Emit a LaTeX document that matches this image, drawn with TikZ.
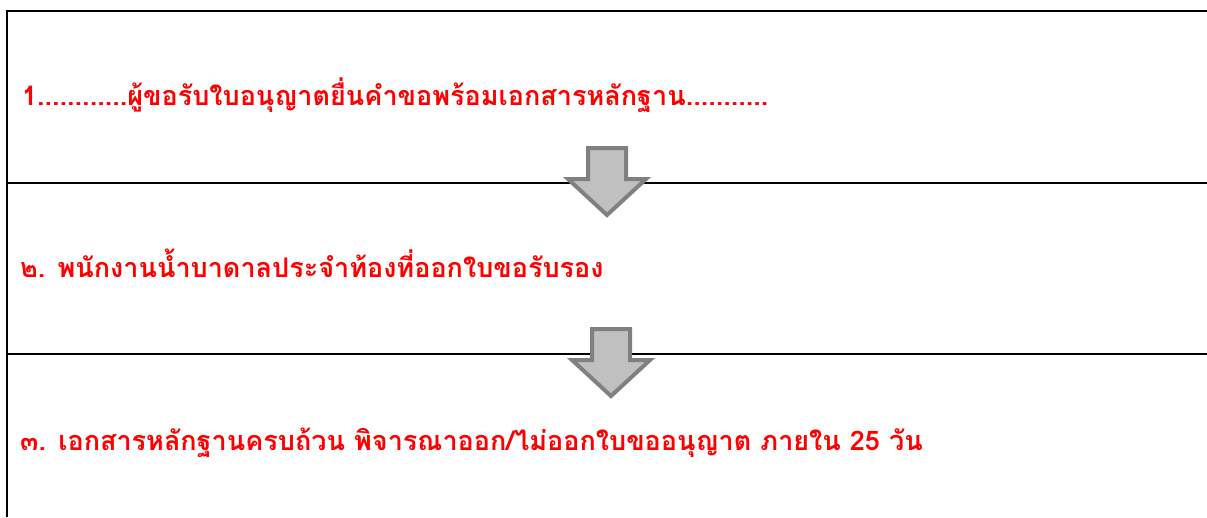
\documentclass[tikz,border=0pt]{standalone}
\usepackage{fontspec}
\newfontfamily\thaifont[Script=Thai]{Loma}
\usepackage{xcolor}
\usetikzlibrary{
    positioning,
    calc,
}
\definecolor{steptext}{RGB}{255,0,0}
\definecolor{arrowedge}{RGB}{128,128,128}
\definecolor{arrowfill}{RGB}{192,192,192}
\tikzset{
    % Text styles
    step label/.style={anchor=base west, inner sep=0pt, text=steptext,
                       font=\thaifont\bfseries\fontsize{27}{32}\selectfont},
    % Frame styles
    frame line/.style={line width=2pt, black},
    % Arrow styles
    block arrow/.style={draw=arrowedge, fill=arrowfill, line width=4pt, line join=miter},
}

\begin{document}
\begin{tikzpicture}[x=1pt, y=-1pt]
    \useasboundingbox (0,0) rectangle (1207,517);

    % Frame
    \draw[frame line] (1207,11) -- (7,11) -- (7,517);
    \draw[frame line] (7,183) -- (1207,183);
    \draw[frame line] (7,354) -- (1207,354);

    % Steps
    \node[step label] (step1) at (22,105) {1............ผู้ขอรับใบอนุญาตยื่นคำขอพร้อมเอกสารหลักฐาน...........};
    \node[step label] (step2) at (20,277) {๒. พนักงานน้ำบาดาลประจำท้องที่ออกใบขอรับรอง};
    \node[step label] (step3) at (20,450) {๓. เอกสารหลักฐานครบถ้วน พิจารณาออก/ไม่ออกใบขออนุญาต ภายใน 25 วัน};

    % Arrows
    \coordinate (tip1) at (607,215);
    \coordinate (tip2) at (611,396);
    \draw[block arrow] (tip1) -- ++(-39,-36) -- ++(20,0) -- ++(0,-31) -- ++(38,0)
        -- ++(0,31) -- ++(20,0) -- cycle;
    \draw[block arrow] (tip2) -- ++(-39,-36) -- ++(20,0) -- ++(0,-31) -- ++(38,0)
        -- ++(0,31) -- ++(20,0) -- cycle;
\end{tikzpicture}
\end{document}
